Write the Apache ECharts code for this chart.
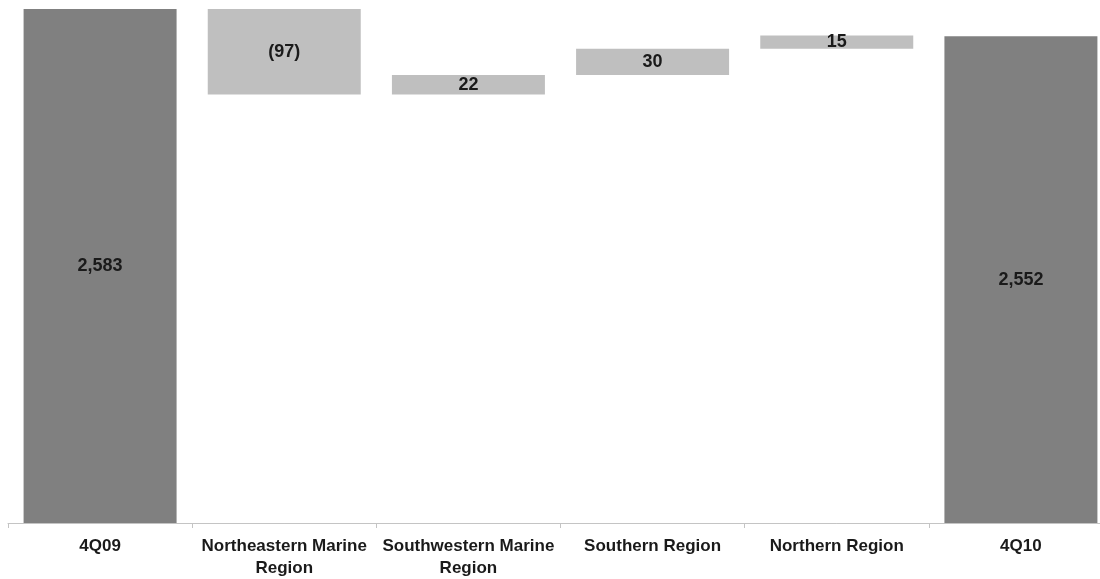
<!DOCTYPE html>
<html>
<head>
<meta charset="utf-8">
<script src="https://cdn.jsdelivr.net/npm/echarts@6/dist/echarts.min.js"></script>
<style>
  html, body { margin: 0; padding: 0; background: #ffffff; overflow: hidden; }
  /* the canvas runs a little past the right edge so the last column is cut off */
  #chart { width: 1114px; height: 579px; }
</style>
</head>
<body>
<div id="chart"></div>
<script>
// Bridge of quarterly totals by region (4Q09 -> 4Q10)
const categories = ['4Q09', 'Northeastern Marine\nRegion', 'Southwestern Marine\nRegion', 'Southern Region', 'Northern Region', '4Q10'];
const startTotal = 2583;
const endTotal = 2552;
const changes = [-97, 22, 30, 15];   // regional changes, in category order
const yMin = 2000;
const yMax = 2583;

const TOTAL_COLOR = '#808080';
const STEP_COLOR = '#bfbfbf';

// Build the invisible offset and the visible segment for each category
const baseData = [];
const barData = [];
const labelText = [];

baseData.push('-');
barData.push({ value: startTotal, itemStyle: { color: TOTAL_COLOR } });
labelText.push(startTotal.toLocaleString('en-US'));

let running = startTotal;
changes.forEach(function (d) {
  const next = running + d;
  baseData.push(Math.min(running, next));
  barData.push({ value: Math.abs(d), itemStyle: { color: STEP_COLOR } });
  labelText.push(d < 0 ? '(' + Math.abs(d) + ')' : String(d));
  running = next;
});

baseData.push('-');
barData.push({ value: endTotal, itemStyle: { color: TOTAL_COLOR } });
labelText.push(endTotal.toLocaleString('en-US'));

const chart = echarts.init(document.getElementById('chart'));
chart.setOption({
  animation: false,
  backgroundColor: '#ffffff',
  grid: { left: 8, top: 9, right: 1, bottom: 51, containLabel: false },
  xAxis: {
    type: 'category',
    data: categories,
    axisLine: { lineStyle: { color: '#c4c4c4', width: 1 } },
    axisTick: { show: true, length: 5, lineStyle: { color: '#c4c4c4' } },
    axisLabel: {
      interval: 0,
      margin: 12,
      color: '#1a1a1a',
      fontFamily: 'Liberation Sans, Arial, sans-serif',
      fontWeight: 'bold',
      fontSize: 17,
      lineHeight: 22
    }
  },
  yAxis: {
    type: 'value',
    min: yMin,
    max: yMax,
    show: false,
    splitLine: { show: false }
  },
  series: [
    {
      type: 'bar',
      stack: 'bridge',
      data: baseData,
      barWidth: 153,
      itemStyle: { color: 'transparent' },
      silent: true
    },
    {
      type: 'bar',
      stack: 'bridge',
      data: barData,
      barWidth: 153,
      label: {
        show: true,
        position: 'inside',
        color: '#1a1a1a',
        fontFamily: 'Liberation Sans, Arial, sans-serif',
        fontWeight: 'bold',
        fontSize: 18,
        formatter: function (p) { return labelText[p.dataIndex]; }
      }
    }
  ]
});
</script>
</body>
</html>
